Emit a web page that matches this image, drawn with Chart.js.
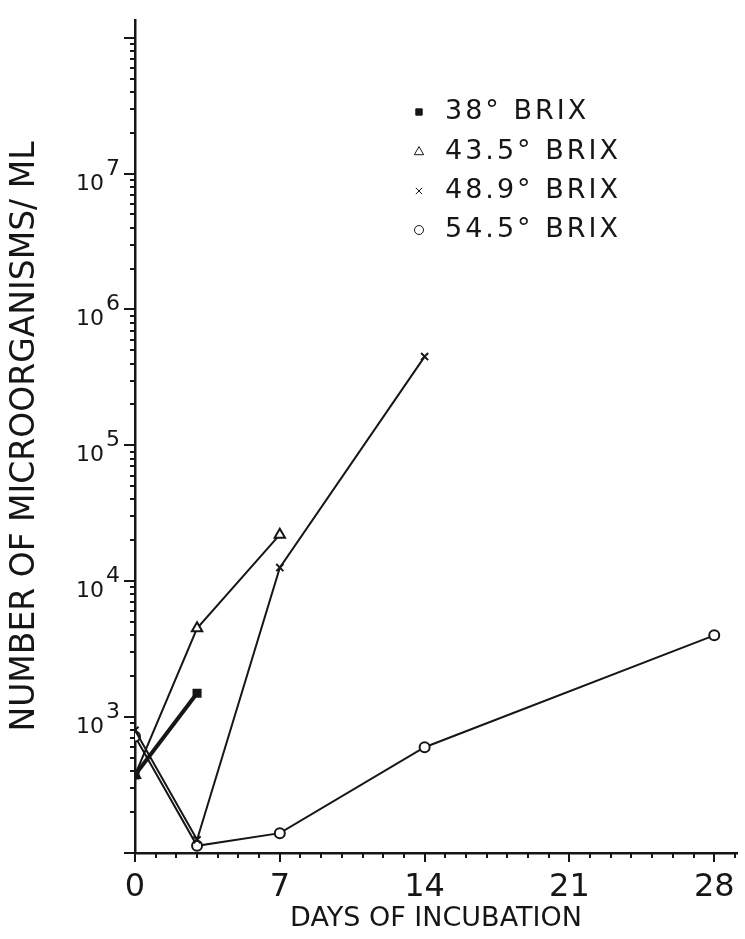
<!DOCTYPE html>
<html>
<head>
<meta charset="utf-8">
<script src="https://cdn.jsdelivr.net/npm/chart.js@4/dist/chart.umd.min.js"></script>
<style>
  html, body { margin: 0; padding: 0; background: #fff; }
  #wrap { width: 745px; height: 939px; }
</style>
</head>
<body>
<div id="wrap"><canvas id="brixChart" width="745" height="939"></canvas></div>
<script>
// days sampled for each syrup concentration
const days38 = [0, 3]
const days435 = [0, 3, 7]
const days489 = [0, 3, 7, 14]
const days545 = [0, 3, 7, 14, 28]

// counts (organisms per ml)
const count38 = [375, 1500]
const count435 = [375, 4500, 22000]
const count489 = [800, 125, 12600, 450000]
const count545 = [720, 113, 140, 600, 4000]

const seriesLabels = ['38\u00b0 BRIX', '43.5\u00b0 BRIX', '48.9\u00b0 BRIX', '54.5\u00b0 BRIX']
const xTickLabels = [0, 7, 14, 21, 28]
const yLabelPowers = [3, 4, 5, 6, 7]

const ink = '#161616'
const font = '"DejaVu Sans", sans-serif'

function pairs(xs, ys) {
    return xs.map((x, i) => ({ x: x, y: ys[i] }))
}

// log ticks: 1..9 x 10^n from 10^2 up to 10^8
let yTickValues = []
for (let e = 2; e < 8; e++) {
    for (let m = 1; m < 10; m++) yTickValues.push(m * Math.pow(10, e))
}
yTickValues.push(1e8)

// outward tick marks, long on decades / weeks, short otherwise
const axisTicks = {
    id: 'axisTicks',
    afterDraw(chart) {
        const ctx = chart.ctx
        const xs = chart.scales.x
        const ys = chart.scales.y
        ctx.save()
        ctx.strokeStyle = ink
        ctx.lineWidth = 2
        ctx.beginPath()
        xs.ticks.forEach(t => {
            const px = Math.round(xs.getPixelForValue(t.value))
            const len = t.value % 7 === 0 ? 9 : 5
            ctx.moveTo(px, xs.top)
            ctx.lineTo(px, xs.top + len)
        })
        ys.ticks.forEach(t => {
            const py = Math.round(ys.getPixelForValue(t.value))
            const lg = Math.log10(t.value)
            const len = Math.abs(lg - Math.round(lg)) < 1e-6 ? 11 : 5
            ctx.moveTo(ys.right, py)
            ctx.lineTo(ys.right - len, py)
        })
        ctx.stroke()

        // decade labels: 10 with the exponent raised beside it
        ctx.fillStyle = ink
        ctx.textBaseline = 'alphabetic'
        ctx.textAlign = 'right'
        ctx.font = '22px ' + font
        yLabelPowers.forEach(n => {
            const py = ys.getPixelForValue(Math.pow(10, n))
            const right = ys.right - 15
            ctx.fillText(String(n), right, py + 1)
            const w = ctx.measureText(String(n)).width
            ctx.fillText('10', right - w - 2, py + 16)
        })
        ctx.restore()
    }
}

// key in the upper right of the plot
const keyBox = {
    id: 'keyBox',
    afterDraw(chart) {
        const ctx = chart.ctx
        const area = chart.chartArea
        const left = area.left + 284
        const rows = [112, 152, 191, 230]
        ctx.save()
        chart.data.datasets.forEach((ds, i) => {
            const y = rows[i]
            ctx.fillStyle = ds.pointBackgroundColor
            ctx.strokeStyle = ink
            Chart.helpers.drawPoint(ctx, {
                pointStyle: ds.pointStyle,
                radius: ds.pointRadius * 0.9,
                borderWidth: ds.pointBorderWidth,
            }, left, y)
            ctx.fillStyle = ink
            ctx.font = '27px ' + font
            ctx.letterSpacing = '3px'
            ctx.textBaseline = 'middle'
            ctx.fillText(ds.label, left + 26, y)
            ctx.letterSpacing = '0px'
        })
        ctx.restore()
    }
}

const baseSet = {
    borderColor: ink,
    pointBorderColor: ink,
    borderWidth: 2,
    pointBorderWidth: 2,
    tension: 0,
}

new Chart('brixChart', {
    type: 'line',
    data: {
        datasets: [
            Object.assign({}, baseSet, {
                label: seriesLabels[0],
                data: pairs(days38, count38),
                borderWidth: 4,
                pointStyle: 'rect',
                pointRadius: 5,
                pointBackgroundColor: ink,
            }),
            Object.assign({}, baseSet, {
                label: seriesLabels[1],
                data: pairs(days435, count435),
                pointStyle: 'triangle',
                pointRadius: 6,
                pointBackgroundColor: '#fff',
            }),
            Object.assign({}, baseSet, {
                label: seriesLabels[2],
                data: pairs(days489, count489),
                pointStyle: 'crossRot',
                pointRadius: 5,
                pointBackgroundColor: ink,
            }),
            Object.assign({}, baseSet, {
                label: seriesLabels[3],
                data: pairs(days545, count545),
                pointStyle: 'circle',
                pointRadius: 5,
                pointBackgroundColor: '#fff',
            }),
        ]
    },
    options: {
        responsive: false,
        animation: false,
        layout: { padding: { top: 20, right: 3 } },
        plugins: {
            legend: { display: false },
            tooltip: { enabled: false },
        },
        scales: {
            x: {
                type: 'linear',
                min: 0,
                max: 29.1,
                afterBuildTicks: (scale) => {
                    let t = []
                    for (let d = 0; d <= 29; d++) t.push({ value: d })
                    scale.ticks = t
                },
                afterFit: (scale) => {
                    scale.height = 86
                    scale.paddingLeft = 0
                    scale.paddingRight = 0
                },
                grid: { display: true, drawOnChartArea: false, drawTicks: false },
                border: { display: true, color: ink, width: 2.5 },
                ticks: {
                    color: ink,
                    padding: 15,
                    autoSkip: false,
                    maxRotation: 0,
                    font: { family: font, size: 32 },
                    callback: (v) => xTickLabels.includes(v) ? String(v) : '',
                },
                title: {
                    display: true,
                    text: 'DAYS OF INCUBATION',
                    color: ink,
                    padding: { top: 0 },
                    font: { family: font, size: 27 },
                },
            },
            y: {
                type: 'logarithmic',
                min: 100,
                max: 1.35e8,
                afterBuildTicks: (scale) => {
                    scale.ticks = yTickValues.map(v => ({ value: v }))
                },
                afterFit: (scale) => {
                    scale.width = 135
                    scale.paddingTop = 0
                    scale.paddingBottom = 0
                },
                grid: { display: true, drawOnChartArea: false, drawTicks: false },
                border: { display: true, color: ink, width: 2.5 },
                ticks: {
                    autoSkip: false,
                    callback: () => '',
                },
                title: {
                    display: true,
                    text: 'NUMBER OF MICROORGANISMS/ ML',
                    color: ink,
                    padding: { top: 6, bottom: 0 },
                    font: { family: font, size: 33 },
                },
            },
        },
    },
    plugins: [axisTicks, keyBox],
})
</script>
</body>
</html>
